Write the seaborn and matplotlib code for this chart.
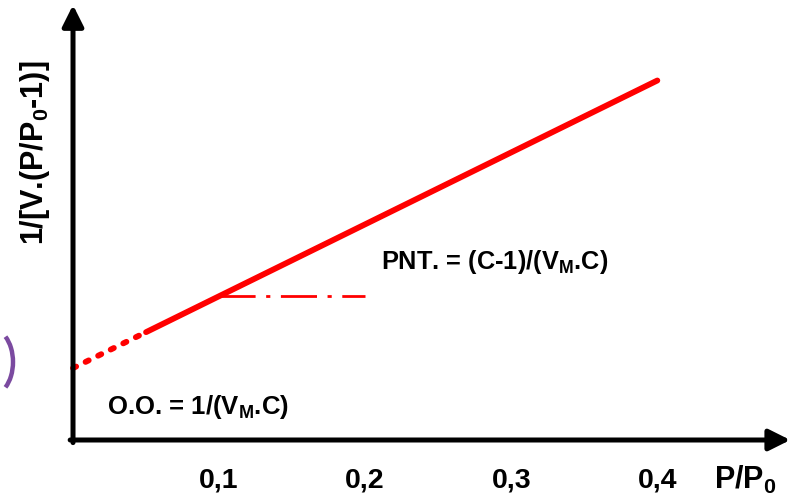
import numpy as np
import pandas as pd
import seaborn as sns
import matplotlib.pyplot as plt
from matplotlib.patches import Arc

# BET plot (schematic)
x_extrap = [0.0, 0.05]
y_extrap = [0.2, 0.3]
x_linear = [0.05, 0.4]
y_linear = [0.3, 1.0]
x_slope = [0.1, 0.2]
y_slope = [0.4, 0.4]
tick_pos = [0.1, 0.2, 0.3, 0.4]
tick_labels = ['0,1', '0,2', '0,3', '0,4']

sns.set_style('white')
plt.rcParams['font.family'] = ['Liberation Sans', 'DejaVu Sans']
plt.rcParams['font.weight'] = 'bold'
plt.rcParams['text.color'] = 'black'
plt.rcParams['xtick.color'] = 'black'
plt.rcParams['xtick.labelcolor'] = 'black'
plt.rcParams['mathtext.fontset'] = 'custom'
plt.rcParams['mathtext.rm'] = 'Liberation Sans:bold'
plt.rcParams['mathtext.bf'] = 'Liberation Sans:bold'
plt.rcParams['mathtext.default'] = 'bf'

fig = plt.figure(figsize=(8.05, 5), dpi=100)
ax = fig.add_axes([0.0907, 0.12, 0.891, 0.87])

red = '#ff0000'
sns.lineplot(x=x_extrap, y=y_extrap, ax=ax, color=red, lw=4.2,
             linestyle=(0, (0.6, 1.8)), dash_capstyle='round', clip_on=False)
sns.lineplot(x=x_linear, y=y_linear, ax=ax, color=red, lw=4.2)
sns.lineplot(x=x_slope, y=y_slope, ax=ax, color=red, lw=2.0,
             linestyle=(0, (13, 3.8, 1.5, 3.8)))

ax.set_xlim(0, 0.491)
ax.set_ylim(0, 1.21)
for s in ax.spines.values():
    s.set_visible(False)
ax.set_yticks([])
ax.set_xticks(tick_pos)
ax.set_xticklabels(tick_labels, fontsize=20.5, fontweight='bold', color='black')
ax.tick_params(axis='x', length=0, pad=20)
ax.set_xlabel('')
ax.set_ylabel('')

# axes drawn as arrows
arrow = dict(arrowstyle='-|>', lw=3.6, color='black', mutation_scale=32,
             shrinkA=0, shrinkB=0)
ax.annotate('', xy=(1.0, 0), xytext=(-0.004, 0), xycoords='axes fraction',
            arrowprops=arrow, annotation_clip=False)
ax.annotate('', xy=(0, 1.0), xytext=(0, -0.006), xycoords='axes fraction',
            arrowprops=arrow, annotation_clip=False)

fig.text(0.044, 0.694, '1/[V.(P/P$_0$-1)]', rotation=90, fontsize=22,
         fontweight='bold', ha='center', va='center')
fig.text(0.887, 0.040, 'P/P$_0$', fontsize=22, fontweight='bold',
         ha='left', va='center')
fig.text(0.133, 0.186, 'O.O. = 1/(V$_M$.C)', fontsize=18.5, fontweight='bold',
         ha='left', va='center')
fig.text(0.473, 0.476, 'PNT. = (C-1)/(V$_M$.C)', fontsize=18.3,
         fontweight='bold', ha='left', va='center')

# purple bracket at the left edge
arc = Arc((-8, 138), 42, 66, theta1=-62, theta2=62, color='#7b4aa0', lw=3.2,
          transform=None)
fig.patches.append(arc)

fig.savefig('out.png', dpi=100)
